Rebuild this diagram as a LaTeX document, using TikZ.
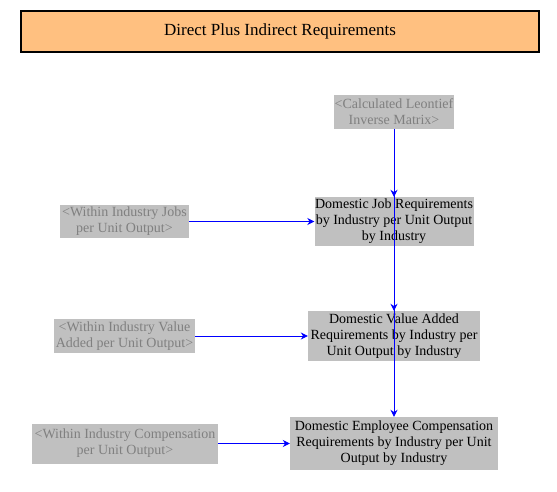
\documentclass[tikz,border=0pt]{standalone}
\usepackage{fontspec}
\setmainfont{Liberation Serif}
\usetikzlibrary{arrows.meta}
\definecolor{titlefill}{RGB}{255,192,128}
\definecolor{boxgray}{RGB}{192,192,192}
\definecolor{ghosttext}{RGB}{128,128,128}
\definecolor{linkblue}{RGB}{0,0,255}
\tikzset{
  varbox/.style={fill=boxgray, inner sep=0pt, align=center, font=\fontsize{14}{16}\selectfont, text=black},
  ghost/.style={varbox, text=ghosttext},
  link/.style={draw=linkblue, line width=0.9pt, -{Stealth[length=7pt,width=7pt]}}
}
\begin{document}
\begin{tikzpicture}[x=1pt,y=-1pt]
\useasboundingbox (0,0) rectangle (557,491);
\node[draw=black, line width=1.8pt, fill=titlefill, minimum width=518pt, minimum height=41pt, inner sep=0pt, font=\fontsize{17}{20}\selectfont] (title) at (280,31.5) {Direct Plus Indirect Requirements};
\node[ghost, minimum width=120pt, minimum height=34pt] (leon) at (394,112) {<Calculated Leontief\\Inverse Matrix>};
\node[varbox, minimum width=159pt, minimum height=49pt] (jobs) at (394,221.5) {Domestic Job Requirements\\by Industry per Unit Output\\by Industry};
\node[ghost, minimum width=129pt, minimum height=33pt] (wjobs) at (124.5,221.5) {<Within Industry Jobs\\per Unit Output>};
\node[varbox, minimum width=172pt, minimum height=50pt] (value) at (394,336) {Domestic Value Added\\Requirements by Industry per\\Unit Output by Industry};
\node[ghost, minimum width=141pt, minimum height=34pt] (wvalue) at (124.5,336) {<Within Industry Value\\Added per Unit Output>};
\node[varbox, minimum width=208pt, minimum height=53pt] (comp) at (394,443.5) {Domestic Employee Compensation\\Requirements by Industry per Unit\\Output by Industry};
\node[ghost, minimum width=186pt, minimum height=40pt] (wcomp) at (125,443.5) {<Within Industry Compensation\\per Unit Output>};
\draw[link] (leon.south) -- (comp.north);
\draw[link] (leon.south) -- (value.north);
\draw[link] (leon.south) -- (jobs.north);
\draw[link] (wjobs.east) -- (jobs.west);
\draw[link] (wvalue.east) -- (value.west);
\draw[link] (wcomp.east) -- (comp.west);
\end{tikzpicture}
\end{document}
